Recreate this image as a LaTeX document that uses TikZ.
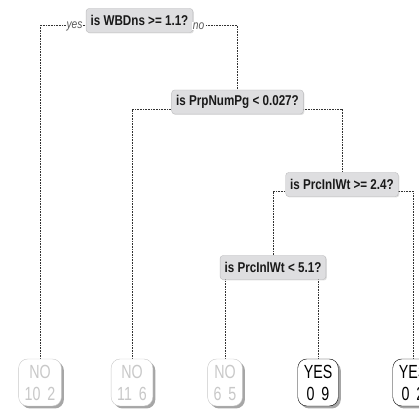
\documentclass[tikz,border=0pt]{standalone}
\usepackage{fontspec}
\setmainfont{Liberation Sans}
\newfontfamily\splitfont[FakeStretch=0.82]{Liberation Sans}
\newfontfamily\leaffont[FakeStretch=0.75]{Liberation Sans}
\usepackage{tikz}
\usetikzlibrary{positioning, calc, shadows, backgrounds}
\definecolor{splitfill}{RGB}{222,222,224}
\definecolor{splitedge}{RGB}{188,188,190}
\definecolor{nogray}{RGB}{200,200,200}
\definecolor{branchgray}{RGB}{50,50,50}
\newcommand{\cnt}[2]{#1\hspace{3pt} #2}

\begin{document}
\begin{tikzpicture}[
  x=1pt, y=1pt,
  split/.style={draw=splitedge, fill=splitfill, rounded corners=3pt, inner xsep=4.5pt,
    minimum height=24pt, text=black!90,
    font=\splitfont\fontsize{14.2}{16}\selectfont\bfseries,
    drop shadow={shadow xshift=1pt, shadow yshift=-1pt, opacity=0.25}},
  leaf/.style={fill=white, rounded corners=9pt, inner xsep=6pt, minimum height=47pt,
    align=center, font=\leaffont\fontsize{19}{22}\selectfont,
    drop shadow={shadow xshift=2.5pt, shadow yshift=-2.5pt, fill=black!35, opacity=1}},
  noleaf/.style={leaf, draw=nogray, text=nogray},
  yesleaf/.style={leaf, draw=black, text=black},
  branch/.style={draw=branchgray, line width=0.5pt, dash pattern=on 1pt off 0.6pt},
  side/.style={font=\splitfont\fontsize{12.5}{13}\selectfont\itshape, text=black!65,
    fill=white, inner sep=1pt}
]
  \clip (0,0) rectangle (419,411);

  \node[split] (root) at (139.5,390.5) {is WBDns >= 1.1?};
  \node[split] (n2) at (237.5,309) {is PrpNumPg < 0.027?};
  \node[split] (n3) at (342,226.5) {is PrcInlWt >= 2.4?};
  \node[split] (n4) at (273,143.5) {is PrcInlWt < 5.1?};

  \node[noleaf] (l1) at (40,28.5) {NO\\\cnt{10}{2}};
  \node[noleaf] (l2) at (132,28.5) {NO\\\cnt{11}{6}};
  \node[noleaf] (l3) at (225,28.5) {NO\\\cnt{6}{5}};
  \node[yesleaf] (l4) at (318,28.5) {YES\\\cnt{0}{9}};
  \node[yesleaf] (l5) at (413,28.5) {YES\\\cnt{0}{2}};

  \begin{scope}[on background layer]
    \draw[branch] (l1.north) |- ($(root.center)+(0,-5)$) -| (n2.north);
    \draw[branch] (l2.north) |- ($(n2.center)+(0,-7)$) -| (n3.north);
    \draw[branch] (n4.north) |- ($(n3.center)+(0,-6.5)$) -| (l5.north);
    \draw[branch] (l3.north) |- ($(n4.center)+(0,-6)$) -| (l4.north);
  \end{scope}

  \node[side] (yes) at (74.5,385) {yes};
  \node[side] (no) at (198.5,385) {no};
\end{tikzpicture}
\end{document}
